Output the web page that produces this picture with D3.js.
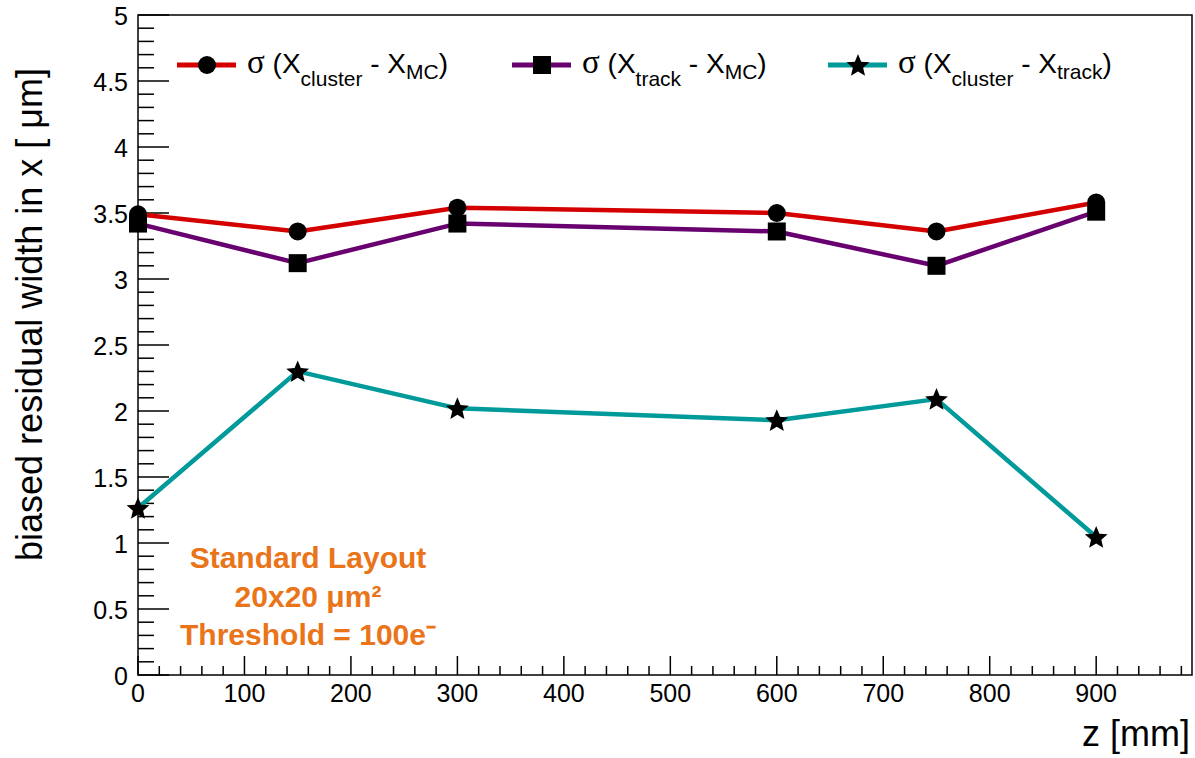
<!DOCTYPE html>
<html>
<head>
<meta charset="utf-8">
<script src="https://cdn.jsdelivr.net/npm/d3@7"></script>
<style>
  body { margin: 0; background: #fff; }
  text { font-family: "Liberation Sans", Arial, sans-serif; }
</style>
</head>
<body>
<div id="chart"></div>
<script>
// data
var zPos = [0, 150, 300, 600, 750, 900];
var sigClusterMC = [3.49, 3.36, 3.54, 3.50, 3.36, 3.58];
var sigTrackMC = [3.42, 3.12, 3.42, 3.36, 3.10, 3.51];
var sigClusterTrack = [1.265, 2.30, 2.02, 1.93, 2.09, 1.045];
var xTicks = [0, 100, 200, 300, 400, 500, 600, 700, 800, 900];
var yTicks = [0, 0.5, 1, 1.5, 2, 2.5, 3, 3.5, 4, 4.5, 5];
var noteLines = ["Standard Layout", "20x20 μm²", "Threshold = 100e⁻"];

var width = 1195, height = 758;
var frameL = 138, frameR = 1192, frameT = 15, frameB = 675;

var svg = d3.select("#chart").append("svg")
            .attr("width", width)
            .attr("height", height);

var x = d3.scaleLinear().domain([0, 990]).range([frameL, frameR]);
var y = d3.scaleLinear().domain([0, 5]).range([frameB, frameT]);

// frame
svg.append("rect")
   .attr("x", frameL).attr("y", frameT)
   .attr("width", frameR - frameL).attr("height", frameB - frameT)
   .attr("fill", "none").attr("stroke", "#000").attr("stroke-width", 1.5);

// x axis ticks (major every 100, minor every 20)
var xMinor = d3.range(0, 990, 20);
svg.append("g").selectAll("line").data(xMinor).enter().append("line")
   .attr("x1", function(d) { return x(d) }).attr("x2", function(d) { return x(d) })
   .attr("y1", frameB)
   .attr("y2", function(d) { return d % 100 == 0 ? frameB - 19 : frameB - 9 })
   .attr("stroke", "#000").attr("stroke-width", 1.5);

svg.append("g").selectAll("text").data(xTicks).enter().append("text")
   .attr("x", function(d) { return x(d) })
   .attr("y", 702)
   .attr("text-anchor", "middle")
   .attr("font-size", 25)
   .text(function(d) { return d });

// y axis ticks (major every 0.5, minor every 0.1)
var yMinor = d3.range(0, 51).map(function(i) { return i / 10 });
svg.append("g").selectAll("line").data(yMinor).enter().append("line")
   .attr("x1", frameL)
   .attr("x2", function(d, i) { return i % 5 == 0 ? frameL + 31 : frameL + 16 })
   .attr("y1", function(d) { return y(d) }).attr("y2", function(d) { return y(d) })
   .attr("stroke", "#000").attr("stroke-width", 1.5);

svg.append("g").selectAll("text").data(yTicks).enter().append("text")
   .attr("x", 128)
   .attr("y", function(d) { return y(d) + 10 })
   .attr("text-anchor", "end")
   .attr("font-size", 25)
   .text(function(d) { return d });

// axis titles
svg.append("text")
   .attr("transform", "translate(42,68) rotate(-90)")
   .attr("text-anchor", "end")
   .attr("font-size", 36)
   .text("biased residual width in x [ μm]");

svg.append("text")
   .attr("x", 1190).attr("y", 746)
   .attr("text-anchor", "end")
   .attr("font-size", 36)
   .text("z [mm]");

// series
var series = [
  {values: sigClusterMC, color: "#d40000", marker: "circle"},
  {values: sigTrackMC, color: "#680070", marker: "square"},
  {values: sigClusterTrack, color: "#009a9a", marker: "star"}
];

var line = d3.line()
             .x(function(d) { return x(d.z) })
             .y(function(d) { return y(d.v) });

// ROOT style full star, fatter than d3.symbolStar
function starPath(r) {
  var pts = d3.range(10).map(function(i) {
    var rr = i % 2 == 0 ? r : r * 0.45;
    var a = -Math.PI / 2 + i * Math.PI / 5;
    return [rr * Math.cos(a), rr * Math.sin(a)];
  });
  return "M" + pts.join("L") + "Z";
}

function drawMarker(g, kind, cx, cy) {
  if (kind == "circle") {
    g.append("circle").attr("cx", cx).attr("cy", cy).attr("r", 9).attr("fill", "#000");
  } else if (kind == "square") {
    g.append("rect").attr("x", cx - 9).attr("y", cy - 9).attr("width", 18).attr("height", 18).attr("fill", "#000");
  } else {
    g.append("path").attr("d", starPath(12))
     .attr("transform", "translate(" + cx + "," + (cy + 1) + ")").attr("fill", "#000");
  }
}

series.forEach(function(s) {
  var pts = zPos.map(function(z, i) { return {z: z, v: s.values[i]} });
  svg.append("path").datum(pts)
     .attr("d", line)
     .attr("fill", "none")
     .attr("stroke", s.color)
     .attr("stroke-width", 4.5)
     .attr("stroke-linejoin", "round");
});

series.forEach(function(s) {
  var g = svg.append("g");
  zPos.forEach(function(z, i) { drawMarker(g, s.marker, x(z), y(s.values[i])) });
});

// legend
var legend = [
  {x: 177, sub1: "cluster", sub2: "MC", off1: 13, off2: 6},
  {x: 512, sub1: "track", sub2: "MC", off1: 13, off2: 6},
  {x: 828, sub1: "cluster", sub2: "track", off1: 13, off2: 6}
];

legend.forEach(function(l, i) {
  var g = svg.append("g");
  g.append("line").attr("x1", l.x).attr("x2", l.x + 59)
   .attr("y1", 65).attr("y2", 65)
   .attr("stroke", series[i].color).attr("stroke-width", 5);
  drawMarker(g, series[i].marker, l.x + 30, 65);

  var t = g.append("text").attr("x", l.x + 70).attr("y", 73).attr("font-size", 28);
  t.append("tspan").attr("font-family", "Liberation Serif, serif").attr("font-size", 33).text("σ");
  t.append("tspan").text(" (X");
  t.append("tspan").attr("font-size", 21).attr("dy", l.off1).text(l.sub1);
  t.append("tspan").attr("dy", -l.off1).text(" - X");
  t.append("tspan").attr("font-size", 21).attr("dy", l.off2).text(l.sub2);
  t.append("tspan").attr("dy", -l.off2).text(")");
});

// annotation
svg.append("g").selectAll("text").data(noteLines).enter().append("text")
   .attr("x", 308)
   .attr("y", function(d, i) { return 568 + i * 38.5 })
   .attr("text-anchor", "middle")
   .attr("font-size", 30)
   .attr("font-weight", "bold")
   .attr("fill", "#ea7419")
   .text(function(d) { return d });
</script>
</body>
</html>
